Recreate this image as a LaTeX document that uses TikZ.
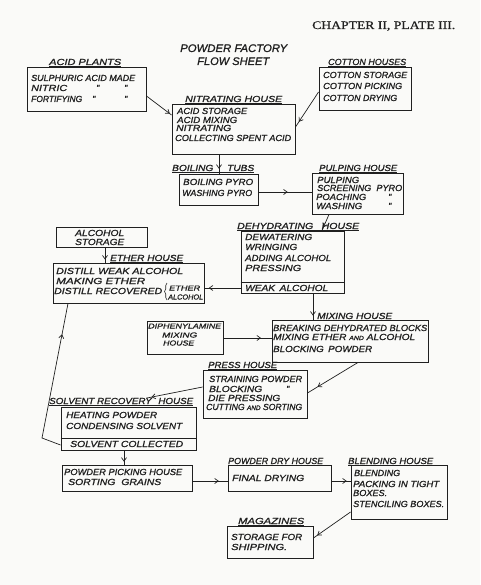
\documentclass[tikz,border=0pt]{standalone}
\usepackage{fontspec}
\usepackage{graphicx}
\newfontface\handfont{Liberation Sans Italic}[FakeBold=1.2]
\newfontface\titlefont{Liberation Serif}[FakeBold=0.8]
\usetikzlibrary{arrows.meta,decorations.markings,decorations.pathreplacing,fit}
\newcommand{\fw}[2]{\resizebox{#1pt}{\height}{#2}}
\definecolor{ink}{HTML}{202020}
\definecolor{paper}{HTML}{FAFAF8}
\tikzset{
  box/.style={draw=ink, line width=0.9pt, inner sep=0pt},
  divline/.style={draw=ink, line width=0.9pt},
  t/.style={inner sep=0pt, anchor=west, text height=6pt, text depth=0pt, text=ink,
    font=\handfont\fontsize{8.8}{10}\selectfont},
  ts/.style={t, text height=5pt, font=\handfont\fontsize{7.2}{8}\selectfont},
  tbig/.style={t, text height=8pt, font=\handfont\fontsize{11}{13}\selectfont},
  ttl/.style={inner sep=0pt, anchor=west, text height=8pt, text depth=0pt, text=ink,
    font=\titlefont\fontsize{11.5}{13}\selectfont},
  flow/.style={draw=ink, line width=0.7pt, postaction={decorate},
    decoration={markings, mark=at position #1 with {\arrow{Straight Barb[length=3.5pt,width=5pt,line width=0.7pt]}}}},
  flow/.default=0.5,
}
\begin{document}
\begin{tikzpicture}[x=1pt,y=-1pt]
\path[fill=paper] (0,0) rectangle (480,585);
\useasboundingbox (0,0) rectangle (480,585);

% title
\node[ttl] (title) at (312,25) {\fw{143}{CHAPTER II, PLATE III.}};
\node[tbig] (pf1) at (180,48) {\fw{107}{POWDER FACTORY}};
\node[tbig] (pf2) at (197,61) {\fw{72}{FLOW SHEET}};

% boxes
\node[box, fit={(27,67) (146,111)}] (acid) {};
\node[box, fit={(319,67) (411,110)}] (cot) {};
\node[box, fit={(172,104) (295,154)}] (nit) {};
\node[box, fit={(179,174) (258,205)}] (boil) {};
\node[box, fit={(312,173) (403,214)}] (pulp) {};
\node[box, fit={(241,231) (344,293)}] (deh) {};
\node[box, fit={(56,227) (147,247)}] (alc) {};
\node[box, fit={(53,263) (204,303)}] (eth) {};
\node[box, fit={(272,320) (428,362)}] (mix) {};
\node[box, fit={(147,321) (223,354)}] (diph) {};
\node[box, fit={(203,370) (307,418)}] (press) {};
\node[box, fit={(61,407) (196,450)}] (sol) {};
\node[box, fit={(62,465) (192,491)}] (pick) {};
\node[box, fit={(228,465) (331,491)}] (dry) {};
\node[box, fit={(351,465) (447,519)}] (blend) {};
\node[box, fit={(227,526) (313,558)}] (mag) {};
\draw[divline] (deh.west |- 0,282) -- (deh.east |- 0,282);
\draw[divline] (sol.west |- 0,438) -- (sol.east |- 0,438);

% labels
\node[t] (acidL) at (49,62) {\fw{72}{\underline{ACID PLANTS}}};
\node[t] (cotL) at (328,62) {\fw{78}{\underline{COTTON HOUSES}}};
\node[t] (nitL) at (185,99) {\fw{97}{\underline{NITRATING HOUSE}}};
\node[t] (boilL) at (172,168) {\fw{82}{\underline{BOILING\hspace{12pt}TUBS}}};
\node[t] (pulpL) at (319,168) {\fw{78}{\underline{PULPING HOUSE}}};
\node[t] (dehL) at (237,226) {\fw{122}{\underline{DEHYDRATING\hspace{7pt}HOUSE}}};
\node[t] (ethL) at (110,258) {\fw{73}{\underline{ETHER HOUSE}}};
\node[t] (mixL) at (317,316) {\fw{75}{\underline{MIXING HOUSE}}};
\node[t] (pressL) at (208,365) {\fw{69}{\underline{PRESS HOUSE}}};
\node[t] (solL) at (49,401) {\fw{144}{\underline{SOLVENT RECOVERY\hspace{6pt}HOUSE}}};
\node[t] (dryL) at (228,461) {\fw{95}{\underline{POWDER DRY HOUSE}}};
\node[t] (blendL) at (348,461) {\fw{85}{\underline{BLENDING HOUSE}}};
\node[t] (magL) at (238,521) {\fw{66}{\underline{MAGAZINES}}};

% acid plants
\node[t] (acid1) at (31,78) {\fw{104}{SULPHURIC ACID MADE}};
\node[t] (acid2) at (31,88) {\fw{36}{NITRIC}};
\node[t] (acid2a) at (96,88) {"};
\node[t] (acid2b) at (124,88) {"};
\node[t] (acid3) at (31,99) {\fw{51}{FORTIFYING}};
\node[t] (acid3a) at (92,99) {"};
\node[t] (acid3b) at (124,99) {"};
% cotton
\node[t] (cot1) at (323,75) {\fw{84}{COTTON STORAGE}};
\node[t] (cot2) at (323,86) {\fw{79}{COTTON PICKING}};
\node[t] (cot3) at (323,98) {\fw{74}{COTTON DRYING}};
% nitrating
\node[t] (nit1) at (177,111) {\fw{70}{ACID STORAGE}};
\node[t] (nit2) at (177,120) {\fw{60}{ACID MIXING}};
\node[t] (nit3) at (176,128) {\fw{55}{NITRATING}};
\node[t] (nit4) at (175,138) {\fw{116}{COLLECTING SPENT ACID}};
% boiling
\node[t] (boil1) at (183,182) {\fw{70}{BOILING PYRO}};
\node[t] (boil2) at (182,193) {\fw{70}{WASHING PYRO}};
% pulping
\node[t] (pulp1) at (317,180) {\fw{42}{PULPING}};
\node[t] (pulp2) at (317,188) {\fw{85}{SCREENING\hspace{5pt}PYRO}};
\node[t] (pulp3) at (316,197) {\fw{50}{POACHING}};
\node[t] (pulp3a) at (388,197) {"};
\node[t] (pulp4) at (316,206) {\fw{46}{WASHING}};
\node[t] (pulp4a) at (388,206) {"};
% dehydrating
\node[t] (deh1) at (245,237) {\fw{67}{DEWATERING}};
\node[t] (deh2) at (245,247) {\fw{52}{WRINGING}};
\node[t] (deh3) at (245,258) {\fw{86}{ADDING ALCOHOL}};
\node[t] (deh4) at (245,268) {\fw{56}{PRESSING}};
\node[t] (deh5) at (245,288) {\fw{83}{WEAK\hspace{4pt}ALCOHOL}};
% alcohol storage
\node[t] (alc1) at (75,233) {\fw{49}{ALCOHOL}};
\node[t] (alc2) at (75,242) {\fw{49}{STORAGE}};
% ether house
\node[t] (eth1) at (56,271) {\fw{127}{DISTILL WEAK ALCOHOL}};
\node[t] (eth2) at (56,281) {\fw{89}{MAKING ETHER}};
\node[t] (eth3) at (54,291) {\fw{108}{DISTILL RECOVERED}};
\node[ts] (eth4) at (169,288) {\fw{31}{ETHER}};
\node[ts] (eth5) at (168,297) {\fw{35}{ALCOHOL}};
\draw[ink, line width=0.6pt, decorate, decoration={brace, amplitude=2.5pt}] (167,300) -- (167,283);
% mixing
\node[t] (mix1) at (273,328) {\fw{154}{BREAKING DEHYDRATED BLOCKS}};
\node[t] (mix2) at (273,337) {\fw{142}{MIXING ETHER {\fontsize{6}{7}\selectfont AND} ALCOHOL}};
\node[t] (mix3) at (273,349) {\fw{99}{BLOCKING\hspace{4pt}POWDER}};
% diphenylamine
\node[ts] (diph1) at (148,326) {\fw{73}{DIPHENYLAMINE}};
\node[ts] (diph2) at (162,335) {\fw{35}{MIXING}};
\node[ts] (diph3) at (163,343) {\fw{31}{HOUSE}};
% press
\node[t] (press1) at (209,379) {\fw{93}{STRAINING POWDER}};
\node[t] (press2) at (209,389) {\fw{53}{BLOCKING}};
\node[t] (press2a) at (286,389) {"};
\node[t] (press3) at (208,398) {\fw{72}{DIE PRESSING}};
\node[t] (press4) at (206,407) {\fw{96}{CUTTING {\fontsize{6.5}{7}\selectfont AND} SORTING}};
% solvent
\node[t] (sol1) at (66,415) {\fw{91}{HEATING POWDER}};
\node[t] (sol2) at (66,426) {\fw{116}{CONDENSING SOLVENT}};
\node[t] (sol3) at (70,444) {\fw{113}{SOLVENT COLLECTED}};
% picking
\node[t] (pick1) at (64,472) {\fw{118}{POWDER PICKING HOUSE}};
\node[t] (pick2) at (68,482) {\fw{93}{SORTING\hspace{5pt}GRAINS}};
% dry
\node[t] (dry1) at (232,478) {\fw{72}{FINAL DRYING}};
% blending
\node[t] (blend1) at (354,473) {\fw{46}{BLENDING}};
\node[t] (blend2) at (353,484) {\fw{86}{PACKING IN TIGHT}};
\node[t] (blend3) at (353,493) {\fw{34}{BOXES.}};
\node[t] (blend4) at (353,504) {\fw{91}{STENCILING BOXES.}};
% magazines
\node[t] (mag1) at (231,537) {\fw{71}{STORAGE FOR}};
\node[t] (mag2) at (231,547) {\fw{56}{SHIPPING.}};

% connectors
\coordinate (solarr) at (147,398);
\coordinate (bend) at (42,438);
\draw[flow=0.93] (acid.east |- 0,96) -- (nit.west |- 0,115);
\draw[flow=0.85] (cot.west |- 0,92) -- (nit.east |- 0,127);
\draw[flow=0.75] (nit.south -| 219,0) -- (boil.north -| 219,0);
\draw[flow=0.55] (boil.east |- 0,192) -- (pulp.west |- 0,192);
\draw[flow=0.8] (pulp.south -| 329,0) -- (deh.north -| 322,0);
\draw[flow=0.8] (alc.south -| 105,0) -- (eth.north -| 105,0);
\draw[flow=0.88] (deh.west |- 0,288) -- (eth.east |- 0,288);
\draw[flow=0.85] (deh.south -| 313,0) -- (mix.north -| 313,0);
\draw[flow=0.78] (diph.east |- 0,338) -- (mix.west |- 0,338);
\draw[flow=0.8] (mix.south -| 358,0) -- (press.east |- 0,393);
\draw[flow=0.92] (press.west |- 0,387) -- (solarr);
\draw[flow=0.8] (sol.west |- 0,445) -- (bend) -- (eth.south -| 68,0);
\draw[flow=0.8] (sol.south -| 124,0) -- (pick.north -| 124,0);
\draw[flow=0.75] (pick.east |- 0,481) -- (dry.west |- 0,481);
\draw[flow=0.8] (dry.east |- 0,481) -- (blend.west |- 0,481);
\draw[flow=0.9] (blend.west |- 0,512) -- (mag.east |- 0,538);
\end{tikzpicture}
\end{document}
